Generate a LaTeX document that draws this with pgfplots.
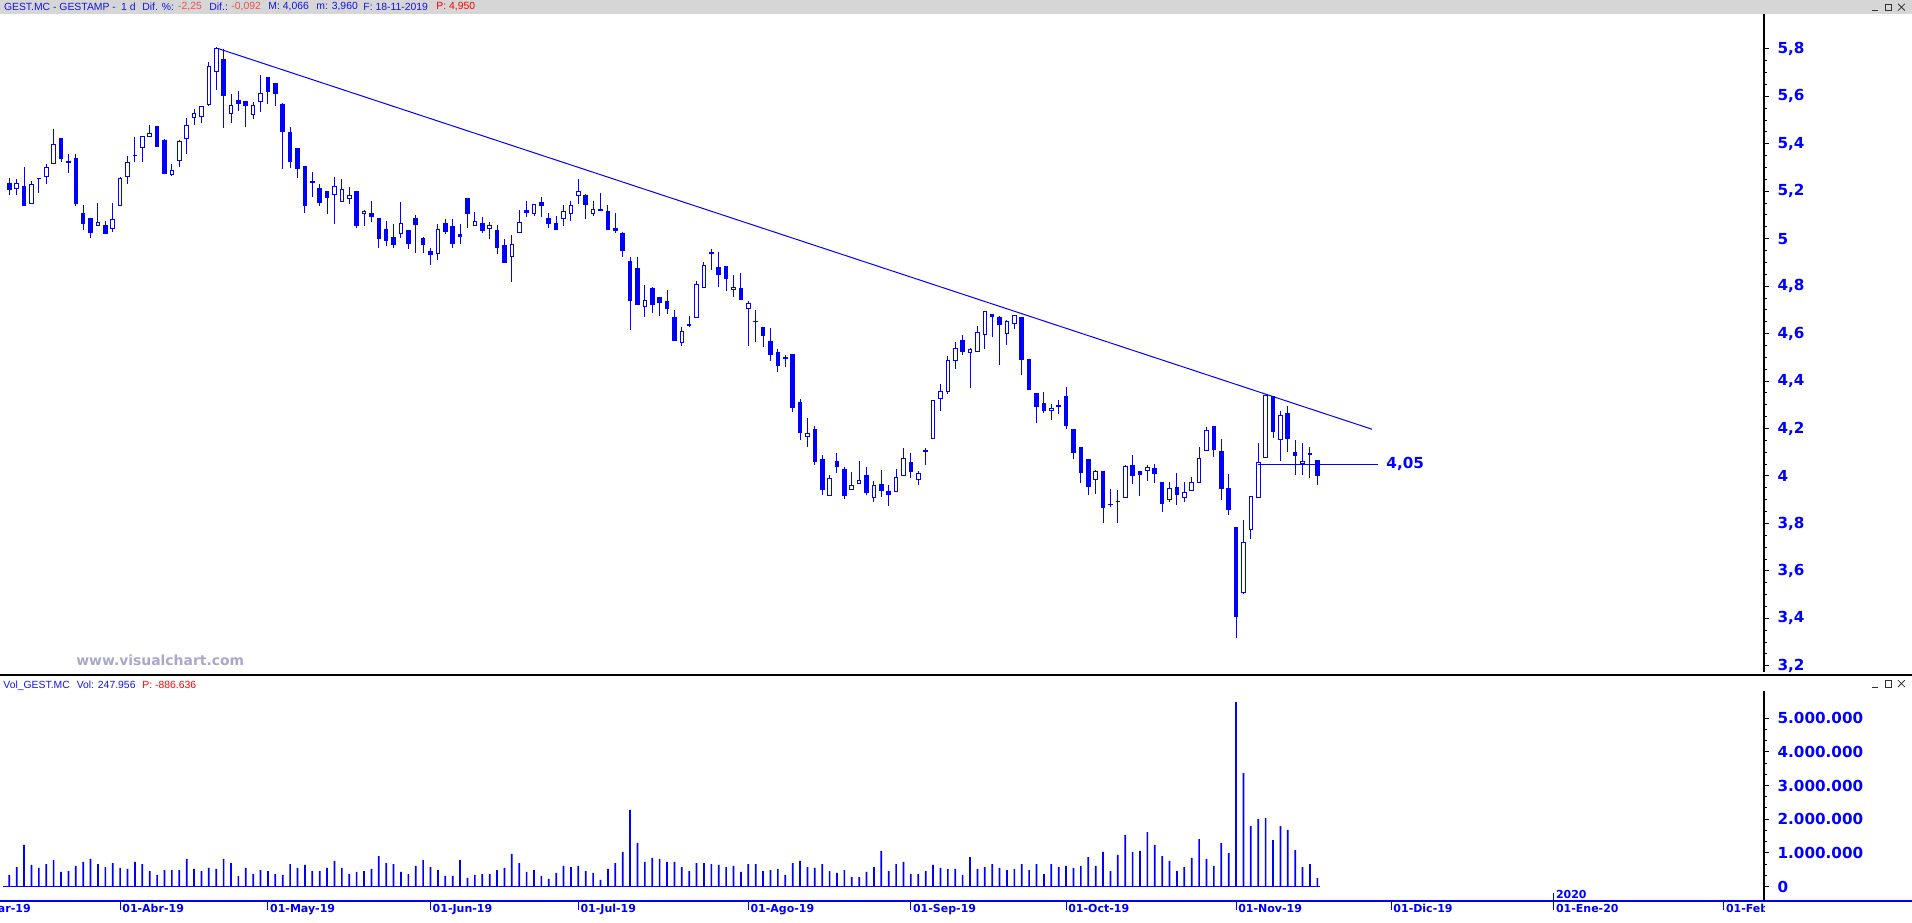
\documentclass[border=0pt]{standalone}
\usepackage{pgfplots}
\pgfplotsset{compat=1.18}
\usepackage{pgfplotstable}
\usepackage{fontspec}
\setmainfont{Liberation Sans}
\newfontfamily\dvs{DejaVu Sans}
\definecolor{cblue}{RGB}{0,0,255}
\definecolor{tblue}{RGB}{20,20,235}
\definecolor{lred}{RGB}{235,80,80}
\definecolor{hred}{RGB}{255,0,0}
\definecolor{wm}{RGB}{168,168,205}
\definecolor{hdrgray}{RGB}{214,214,214}
\newcommand\axfont{\dvs\bfseries\fontsize{7.6pt}{9pt}\selectfont}
\newcommand\datefont{\dvs\bfseries\fontsize{5.5pt}{6.5pt}\selectfont}
\newcommand\hdrfont{\fontsize{5.2pt}{6.2pt}\selectfont}

\pgfplotstableread{
i O H L C V
0 5.233 5.254 5.186 5.208 342000
1 5.213 5.250 5.186 5.231 579000
2 5.222 5.302 5.140 5.140 1233000
3 5.149 5.245 5.149 5.229 639000
4 5.254 5.254 5.193 5.254 550000
5 5.262 5.313 5.231 5.300 668000
6 5.319 5.462 5.316 5.397 787000
7 5.422 5.422 5.324 5.337 431000
8 5.326 5.355 5.278 5.320 460000
9 5.338 5.359 5.139 5.147 609000
10 5.106 5.140 5.038 5.064 728000
11 5.085 5.085 5.004 5.026 817000
12 5.056 5.150 5.056 5.068 668000
13 5.056 5.073 5.022 5.022 579000
14 5.043 5.150 5.029 5.081 698000
15 5.140 5.260 5.140 5.255 550000
16 5.262 5.348 5.231 5.321 520000
17 5.351 5.428 5.324 5.351 728000
18 5.385 5.431 5.324 5.431 668000
19 5.431 5.481 5.427 5.444 460000
20 5.473 5.473 5.387 5.387 342000
21 5.415 5.420 5.274 5.274 490000
22 5.271 5.313 5.265 5.288 490000
23 5.330 5.418 5.303 5.410 490000
24 5.422 5.507 5.358 5.477 817000
25 5.511 5.545 5.479 5.528 520000
26 5.515 5.557 5.488 5.557 460000
27 5.566 5.744 5.560 5.726 550000
28 5.705 5.806 5.626 5.802 520000
29 5.755 5.798 5.467 5.604 817000
30 5.528 5.608 5.488 5.562 698000
31 5.583 5.621 5.538 5.570 312000
32 5.578 5.578 5.472 5.562 550000
33 5.524 5.578 5.503 5.562 371000
34 5.578 5.688 5.535 5.612 490000
35 5.680 5.680 5.569 5.621 460000
36 5.654 5.654 5.560 5.611 371000
37 5.566 5.570 5.295 5.451 342000
38 5.448 5.469 5.300 5.324 668000
39 5.380 5.380 5.257 5.295 550000
40 5.304 5.304 5.109 5.140 639000
41 5.241 5.283 5.177 5.236 460000
42 5.212 5.229 5.139 5.151 460000
43 5.199 5.199 5.105 5.172 550000
44 5.186 5.260 5.063 5.220 758000
45 5.157 5.251 5.157 5.208 550000
46 5.170 5.216 5.147 5.182 371000
47 5.199 5.199 5.046 5.054 431000
48 5.106 5.119 5.054 5.116 460000
49 5.108 5.157 5.071 5.092 520000
50 5.085 5.085 4.962 5.000 906000
51 5.039 5.073 4.970 4.991 698000
52 5.005 5.064 4.962 4.974 668000
53 5.022 5.153 5.005 5.064 431000
54 5.035 5.035 4.958 4.979 371000
55 5.085 5.102 4.941 5.059 609000
56 5.001 5.009 4.941 4.974 787000
57 4.946 4.959 4.890 4.932 579000
58 4.938 5.064 4.911 5.039 490000
59 5.064 5.085 5.021 5.029 312000
60 5.052 5.085 4.962 4.979 312000
61 5.018 5.060 4.979 5.008 787000
62 5.170 5.170 5.046 5.106 253000
63 5.056 5.111 5.056 5.073 342000
64 5.062 5.090 5.022 5.034 371000
65 5.043 5.070 4.997 5.055 371000
66 5.035 5.057 4.937 4.962 490000
67 4.972 4.997 4.899 4.899 550000
68 4.925 5.014 4.819 4.976 966000
69 5.027 5.119 5.027 5.069 698000
70 5.119 5.159 5.093 5.111 431000
71 5.107 5.145 5.097 5.145 490000
72 5.153 5.175 5.093 5.139 312000
73 5.086 5.108 5.046 5.063 223000
74 5.064 5.095 5.038 5.038 401000
75 5.086 5.142 5.055 5.115 609000
76 5.107 5.161 5.076 5.140 579000
77 5.183 5.250 5.147 5.199 609000
78 5.184 5.189 5.084 5.143 460000
79 5.107 5.161 5.097 5.123 401000
80 5.121 5.191 5.118 5.120 193000
81 5.115 5.140 5.038 5.038 520000
82 5.043 5.107 5.022 5.034 698000
83 5.020 5.027 4.924 4.951 1025000
84 4.904 4.925 4.615 4.739 2273000
85 4.876 4.921 4.719 4.722 1292000
86 4.715 4.803 4.671 4.739 728000
87 4.791 4.795 4.688 4.723 847000
88 4.753 4.753 4.675 4.730 817000
89 4.736 4.782 4.684 4.705 728000
90 4.668 4.698 4.570 4.570 728000
91 4.563 4.629 4.549 4.608 579000
92 4.639 4.674 4.629 4.633 460000
93 4.668 4.821 4.668 4.806 698000
94 4.795 4.900 4.795 4.886 698000
95 4.942 4.958 4.868 4.938 668000
96 4.879 4.942 4.796 4.848 639000
97 4.883 4.883 4.781 4.831 579000
98 4.788 4.845 4.755 4.795 609000
99 4.791 4.854 4.743 4.743 431000
100 4.706 4.737 4.549 4.727 668000
101 4.651 4.698 4.564 4.651 668000
102 4.626 4.626 4.545 4.592 460000
103 4.567 4.622 4.486 4.512 490000
104 4.521 4.535 4.437 4.465 520000
105 4.500 4.508 4.460 4.496 342000
106 4.510 4.510 4.271 4.288 698000
107 4.310 4.324 4.153 4.182 758000
108 4.165 4.243 4.123 4.179 579000
109 4.196 4.209 4.045 4.062 550000
110 4.070 4.087 3.918 3.944 668000
111 3.918 4.003 3.918 3.990 460000
112 4.062 4.099 4.014 4.039 401000
113 4.028 4.040 3.904 3.918 490000
114 3.944 4.015 3.944 3.960 282000
115 3.969 4.062 3.965 3.981 282000
116 4.003 4.040 3.921 3.931 431000
117 3.910 3.981 3.892 3.960 579000
118 3.965 4.024 3.913 3.939 1055000
119 3.935 3.960 3.875 3.922 460000
120 3.935 4.028 3.931 3.994 668000
121 4.003 4.116 4.003 4.074 728000
122 4.057 4.099 3.993 4.019 371000
123 3.986 4.019 3.960 4.011 371000
124 4.108 4.116 4.045 4.102 460000
125 4.158 4.319 4.158 4.319 639000
126 4.327 4.386 4.276 4.357 550000
127 4.357 4.504 4.344 4.487 520000
128 4.487 4.563 4.449 4.538 520000
129 4.573 4.594 4.511 4.524 342000
130 4.521 4.538 4.372 4.534 876000
131 4.525 4.632 4.525 4.605 520000
132 4.597 4.694 4.536 4.694 579000
133 4.681 4.681 4.587 4.671 668000
134 4.670 4.674 4.469 4.637 550000
135 4.601 4.657 4.553 4.652 490000
136 4.643 4.677 4.621 4.677 520000
137 4.670 4.670 4.427 4.490 668000
138 4.489 4.493 4.364 4.364 490000
139 4.348 4.348 4.225 4.292 668000
140 4.306 4.354 4.267 4.275 371000
141 4.276 4.303 4.237 4.286 668000
142 4.299 4.320 4.262 4.292 579000
143 4.333 4.375 4.199 4.212 609000
144 4.196 4.196 4.073 4.098 550000
145 4.122 4.122 3.972 4.014 609000
146 4.070 4.070 3.921 3.955 876000
147 3.986 4.024 3.925 4.019 609000
148 4.021 4.021 3.803 3.866 1025000
149 3.879 3.944 3.871 3.879 460000
150 3.893 3.939 3.803 3.893 936000
151 3.910 4.046 3.910 4.042 1530000
152 4.045 4.088 3.967 4.003 1025000
153 4.019 4.019 3.917 4.005 1055000
154 4.024 4.045 3.980 4.036 1619000
155 4.032 4.049 3.972 4.010 1233000
156 3.973 3.973 3.849 3.883 906000
157 3.901 3.973 3.892 3.948 758000
158 3.952 4.012 3.879 3.921 460000
159 3.910 3.973 3.892 3.931 579000
160 3.939 3.994 3.939 3.973 847000
161 3.973 4.122 3.973 4.074 1411000
162 4.108 4.208 4.108 4.192 817000
163 4.209 4.209 4.081 4.111 609000
164 4.104 4.154 3.900 3.946 1292000
165 3.948 4.008 3.837 3.858 995000
166 3.781 3.781 3.318 3.407 5481000
167 3.508 3.814 3.504 3.720 3372000
168 3.775 3.914 3.736 3.914 1797000
169 3.910 4.137 3.910 4.057 2005000
170 4.078 4.340 4.078 4.340 2035000
171 4.335 4.335 4.161 4.187 1381000
172 4.154 4.276 4.064 4.255 1797000
173 4.264 4.293 4.102 4.158 1679000
174 4.100 4.150 4.005 4.087 1084000
175 4.053 4.137 4.005 4.062 579000
176 4.095 4.121 3.993 4.091 668000
177 4.066 4.066 3.960 4.000 248000
}\data

\newcommand\winbtns[2]{%
  \draw[black!80, line width=0.4pt] (#1,#2-1.8pt) -- ++(3pt,0);
  \draw[black!80, line width=0.4pt] (#1+6.5pt,#2-1.8pt) rectangle ++(3.4pt,3.2pt);
  \draw[black!80, line width=0.4pt] (#1+13pt,#2-1.8pt) -- ++(3.4pt,3.4pt) (#1+13pt,#2+1.6pt) -- ++(3.4pt,-3.4pt);
}
\newcommand\hdr[3]{\node[anchor=west, inner sep=0pt, font=\hdrfont, text=#3] at (#1,457.6pt) {#2};}

\begin{document}
\begin{tikzpicture}
\useasboundingbox (0pt,0pt) rectangle (956pt,461pt);
\clip (0pt,0pt) rectangle (956pt,461pt);
\fill[white] (0pt,0pt) rectangle (956pt,461pt);
% header bar
\fill[hdrgray] (0pt,454pt) rectangle (956pt,461pt);
\hdr{1.8pt}{GEST.MC - GESTAMP -\hspace{1.2pt} 1 d}{tblue}
\hdr{71pt}{Dif. \%:}{tblue}
\hdr{88.9pt}{-2,25}{lred}
\hdr{104.5pt}{Dif.:}{tblue}
\hdr{115.5pt}{-0,092}{lred}
\hdr{134pt}{M: 4,066}{tblue}
\hdr{158pt}{m: 3,960}{tblue}
\hdr{181.5pt}{F: 18-11-2019}{tblue}
\hdr{218pt}{P: 4,950}{hred}
\winbtns{936pt}{457.5pt}

% price panel
\begin{axis}[
  at={(0pt,125pt)}, anchor=south west,
  scale only axis, width=882pt, height=329pt,
  xmin=-1.258, xmax=237.44, ymin=3.174, ymax=5.947,
  axis x line=none, axis y line*=right,
  axis line style={black, line width=0.6pt},
  ytick={3.2,3.4,3.6,3.8,4,4.2,4.4,4.6,4.8,5,5.2,5.4,5.6,5.8},
  minor tick num=3,
  tick align=outside, major tick length=2.6pt, minor tick length=1.4pt,
  tick style={black, line width=0.5pt},
  yticklabel style={font=\axfont, text=cblue, anchor=west, inner sep=0pt, xshift=4pt,
    /pgf/number format/.cd, use comma, fixed, precision=1, assume math mode=true},
]
\addplot[draw=none, mark=none, error bars/.cd, y dir=minus, y explicit, error mark=none,
  error bar style={draw=cblue, line width=0.5pt}]
  table[x=i, y=H, y error minus expr={\thisrow{H}-\thisrow{L}}] {\data};
\addplot[draw=none, mark=none, error bars/.cd, y dir=minus, y explicit, error mark=none,
  error bar style={draw=cblue, line width=2.3pt}]
  table[x=i, y expr={max(\thisrow{O},\thisrow{C})+0.0021}, y error minus expr={abs(\thisrow{O}-\thisrow{C})+0.0042}] {\data};
\addplot[draw=none, mark=none, error bars/.cd, y dir=minus, y explicit, error mark=none,
  error bar style={draw=white, line width=1.3pt}]
  table[x=i, y expr={(\thisrow{C}-\thisrow{O}>0.0045) ? (\thisrow{C}-0.0021) : nan}, y error minus expr={\thisrow{C}-\thisrow{O}-0.0042}] {\data};
\addplot[cblue, line width=0.5pt, mark=none] coordinates {(28.2,5.802) (184.4,4.197)};
\addplot[cblue, line width=0.6pt, mark=none] coordinates {(169,4.05) (185.2,4.05)};
\node[anchor=west, inner sep=0pt, font=\axfont, text=cblue] at (axis cs:186.3,4.05) {4,05};
\end{axis}

\node[anchor=west, inner sep=0pt, font=\dvs\bfseries\fontsize{6.95pt}{8pt}\selectfont, text=wm] at (38pt,131pt) {www.visualchart.com};

% separator
\draw[black, line width=0.6pt] (0pt,123.5pt) -- (956pt,123.5pt);
\node[anchor=west, inner sep=0pt, font=\hdrfont] at (1.5pt,118.3pt) {\color{tblue}Vol\_GEST.MC\hspace{2pt} Vol: 247.956\hspace{2pt} \color{hred}P: -886.636};
\winbtns{936pt}{119.3pt}

% volume panel
\begin{axis}[
  at={(0pt,10.5pt)}, anchor=south west,
  scale only axis, width=882pt, height=105pt,
  xmin=-1.258, xmax=237.44, ymin=-431000, ymax=5808000,
  axis x line=none, axis y line*=right,
  axis line style={black, line width=0.6pt},
  ytick={0,1000000,2000000,3000000,4000000,5000000},
  yticklabels={{0},{1.000.000},{2.000.000},{3.000.000},{4.000.000},{5.000.000}},
  scaled y ticks=false,
  minor tick num=2,
  tick align=outside, major tick length=2.6pt, minor tick length=1.4pt,
  tick style={black, line width=0.5pt},
  yticklabel style={font=\axfont, text=cblue, anchor=west, inner sep=0pt, xshift=4pt},
]
\addplot[ybar, bar width=0.85pt, fill=cblue, draw=none] table[x=i, y=V] {\data};
\addplot[cblue, line width=0.75pt, mark=none] coordinates {(-0.8,0) (177.3,0)};
\end{axis}

% date axis
\begin{axis}[
  at={(-32.30pt,10.5pt)}, anchor=south west,
  scale only axis, width=914.29pt, height=105pt,
  xmin=-10, xmax=237.44, ymin=0, ymax=1,
  axis y line=none, axis x line*=bottom,
  axis line style={draw=none},
  xtick={-6,15,35,57,77,100,122,143,166,187,209,232},
  xticklabels={01-Mar-19,01-Abr-19,01-May-19,01-Jun-19,01-Jul-19,01-Ago-19,01-Sep-19,01-Oct-19,01-Nov-19,01-Dic-19,01-Ene-20,01-Feb-20},
  tick align=outside, major tick length=4.5pt,
  tick style={cblue, line width=0.5pt},
  xticklabel style={font=\datefont, text=cblue, anchor=north west, inner sep=0pt, xshift=0.9pt, yshift=3pt},
]
\draw[cblue, line width=0.5pt] (axis cs:209,0) -- ++(0pt,4pt);
\node[anchor=south west, inner sep=0pt, font=\datefont, text=cblue] at ([xshift=0.9pt, yshift=1.2pt]axis cs:209,0) {2020};
\end{axis}

\fill[white] (882.4pt,0pt) rectangle (956pt,10.1pt);
\draw[cblue, line width=0.6pt] (0pt,10.5pt) -- (956pt,10.5pt);
\end{tikzpicture}
\end{document}
